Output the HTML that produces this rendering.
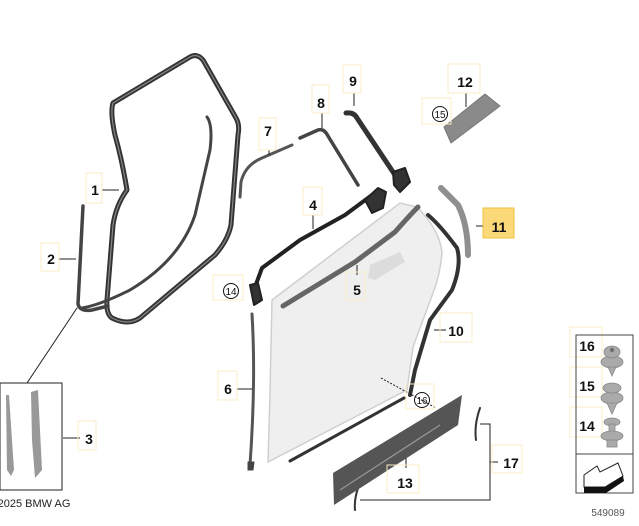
<!DOCTYPE html>
<html><head><meta charset="utf-8"><style>
html,body{margin:0;padding:0;background:#fff;}
svg{display:block;}
text{font-family:"Liberation Sans",sans-serif;font-weight:bold;fill:#111;}
</style></head><body>
<svg width="639" height="526" viewBox="0 0 639 526" xmlns="http://www.w3.org/2000/svg">
<g fill="none" stroke-linejoin="round" stroke-linecap="round">
<path d="M113,103 L190,57 Q197,53 203,60 L236,118 Q240,125 238,135 L231,225 Q228,240 215,255 L140,318 Q128,326 112,318 Q106,314 107,300 L113,225 Q116,205 127,190 Q122,160 115,135 Q110,112 113,103 Z" stroke="#333" stroke-width="5"/>
<path d="M113,103 L190,57 Q197,53 203,60 L236,118 Q240,125 238,135 L231,225 Q228,240 215,255 L140,318 Q128,326 112,318 Q106,314 107,300 L113,225 Q116,205 127,190 Q122,160 115,135 Q110,112 113,103 Z" stroke="#888" stroke-width="1.2"/>
<path d="M207,117 Q213,125 210,150 L195,215 Q180,260 130,290 Q100,305 82,308" stroke="#444" stroke-width="3"/>
<path d="M83,206 L78,304 Q80,312 92,310 L108,306" stroke="#444" stroke-width="3.5"/>
<line x1="77" y1="308" x2="27" y2="383" stroke="#222" stroke-width="1"/>
<path d="M240,197 L241,182 Q245,165 262,158 L292,145" stroke="#555" stroke-width="3"/>
<path d="M300,138 L318,130 Q324,128 328,136 L358,185" stroke="#444" stroke-width="3.5"/>
<path d="M346,113 Q354,112 357,118 L395,175" stroke="#333" stroke-width="5"/>
<path d="M393,172 L405,168 L410,182 L400,192 L394,185 Z" fill="#333" stroke="#222" stroke-width="2"/>
<path d="M444,127 L485,94 L500,106 L451,143 Z" fill="#8a8a8a" stroke="#777" stroke-width="1"/>
<path d="M255,287 L262,268 L300,240 L345,215 L372,195" stroke="#222" stroke-width="4"/>
<path d="M365,200 L378,188 L386,192 L383,208 L372,213 Z" fill="#333" stroke="#222" stroke-width="2"/>
<path d="M250,285 L258,283 L262,300 L254,305 Z" fill="#333" stroke="#222" stroke-width="2"/>
</g>
<path d="M272,300 L400,203 L417,207 Q440,230 442,253 Q440,275 433,293 L413,347 L407,390 L268,462 L270,393 Z" fill="#efefef" stroke="#cfcfcf" stroke-width="1.5"/>
<path d="M370,265 L400,252 L405,262 L375,280 L368,278 Z" fill="#dcdcdc"/>
<g fill="none" stroke-linecap="round" stroke-linejoin="round">
<path d="M283,306 L355,262 L395,232 Q410,215 418,207" stroke="#666" stroke-width="5"/>
<path d="M428,215 Q440,225 457,248 Q462,265 452,290 L430,320 L415,370 L410,395" stroke="#333" stroke-width="4"/>
<path d="M441,188 L458,205 Q468,225 468,255" stroke="#8f8f8f" stroke-width="6"/>
<path d="M252,314 Q256,380 250,465" stroke="#555" stroke-width="3"/>
<path d="M248,462 L254,462 L253,470 L248,470 Z" fill="#444" stroke="#444"/>
<path d="M290,461 L404,398" stroke="#333" stroke-width="3"/>
<path d="M480,408 Q474,425 476,440" stroke="#333" stroke-width="2"/>
<path d="M358,488 Q354,500 355,510" stroke="#333" stroke-width="2"/>
</g>
<path d="M333,473 L462,395 L458,425 L334,505 Z" fill="#555"/>
<path d="M340,490 L440,425" stroke="#999" stroke-width="1.2"/>
<g stroke="#222" stroke-width="1" fill="none">
<line x1="102" y1="190" x2="119" y2="190"/>
<line x1="59" y1="259" x2="76" y2="259"/>
<line x1="63" y1="438" x2="80" y2="438"/>
<line x1="269" y1="150" x2="269" y2="155"/>
<line x1="322" y1="113" x2="322" y2="128"/>
<line x1="354" y1="93" x2="354" y2="106"/>
<line x1="466" y1="93" x2="466" y2="107"/>
<line x1="313" y1="215" x2="313" y2="229"/>
<line x1="476" y1="226" x2="488" y2="226"/>
<line x1="357" y1="275" x2="357" y2="265"/>
<line x1="434" y1="330" x2="446" y2="330"/>
<line x1="237" y1="389" x2="252" y2="389"/>
<line x1="381" y1="378" x2="436" y2="408" stroke-dasharray="2,1.5"/>
<line x1="406" y1="458" x2="406" y2="468"/>
<polyline points="480,424 490,424 490,500 360,500"/>
<line x1="490" y1="462" x2="498" y2="462"/>
</g>
<g fill="none" stroke="#f8ecc4" stroke-width="1">
<rect x="86" y="173" width="16" height="30"/>
<rect x="41" y="243" width="18" height="28"/>
<rect x="78" y="421" width="18" height="29"/>
<rect x="259" y="118" width="17" height="32"/>
<rect x="312" y="85" width="17" height="28"/>
<rect x="343" y="65" width="18" height="28"/>
<rect x="448" y="64" width="32" height="29"/>
<rect x="422" y="98" width="29" height="26"/>
<rect x="303" y="187" width="19" height="28"/>
<rect x="213" y="275" width="30" height="25"/>
<rect x="346" y="272" width="19" height="28"/>
<rect x="440" y="313" width="32" height="29"/>
<rect x="218" y="371" width="19" height="29"/>
<rect x="406" y="384" width="28" height="25"/>
<rect x="387" y="465" width="32" height="28"/>
<rect x="492" y="445" width="30" height="28"/>
<rect x="570" y="327" width="32" height="30"/>
<rect x="570" y="367" width="32" height="30"/>
<rect x="570" y="407" width="32" height="30"/>
</g>
<rect x="483" y="208" width="31" height="30" fill="#fbd878" stroke="#f0c040"/>
<g font-size="14" text-anchor="middle">
<text x="95" y="195">1</text>
<text x="51" y="264">2</text>
<text x="89" y="444">3</text>
<text x="268" y="136">7</text>
<text x="321" y="108">8</text>
<text x="353" y="86">9</text>
<text x="465" y="87">12</text>
<text x="313" y="210">4</text>
<text x="499" y="232">11</text>
<text x="357" y="295">5</text>
<text x="456" y="336">10</text>
<text x="228" y="394">6</text>
<text x="405" y="488">13</text>
<text x="511" y="468">17</text>
<text x="587" y="351">16</text>
<text x="587" y="391">15</text>
<text x="587" y="431">14</text>
</g>
<g fill="none" stroke="#111" stroke-width="1">
<circle cx="440" cy="114" r="7.5"/>
<circle cx="231" cy="291" r="7.5"/>
<circle cx="422" cy="400" r="7.5"/>
</g>
<g font-size="10" text-anchor="middle">
<text x="440" y="118" style="font-weight:normal">15</text>
<text x="231" y="295" style="font-weight:normal">14</text>
<text x="422" y="404" style="font-weight:normal">16</text>
</g>
<rect x="0" y="383" width="62" height="107" fill="none" stroke="#222" stroke-width="1"/>
<path d="M6,395 L9,395 L14,470 L11,476 L7,470 Z" fill="#999"/>
<path d="M31,392 L38,390 L42,470 L35,478 L32,440 Z" fill="#999"/>
<text x="34" y="507" font-size="11" text-anchor="middle" style="font-weight:normal;fill:#222">2025 BMW AG</text>
<rect x="576" y="335" width="57" height="158" fill="none" stroke="#444" stroke-width="1"/>
<line x1="576" y1="454" x2="633" y2="454" stroke="#444"/>
<g fill="#aaa" stroke="#888" stroke-width="0.8">
<ellipse cx="612" cy="362" rx="11" ry="6"/><ellipse cx="612" cy="352" rx="8" ry="6"/><circle cx="612" cy="350" r="2" fill="#666"/>
<path d="M608,367 L616,367 L612,376 Z"/>
<ellipse cx="612" cy="398" rx="11" ry="6"/><ellipse cx="612" cy="388" rx="9" ry="5"/>
<path d="M607,403 L617,403 L612,414 Z"/>
<ellipse cx="612" cy="422" rx="8" ry="4"/><rect x="609" y="424" width="6" height="10"/>
<ellipse cx="612" cy="436" rx="11" ry="5"/><rect x="607" y="440" width="10" height="7"/>
</g>
<path d="M584,475 L584,487 L605,487 L623,476 L618,463 L600,472 L597,466 Z" fill="#fff" stroke="#222" stroke-width="1"/>
<path d="M584,487 L605,487 L623,476 L624,481 L606,493 L584,493 Z" fill="#111"/>
<text x="608" y="516" font-size="10" text-anchor="middle" style="font-weight:normal;fill:#555">549089</text>
</svg>
</body></html>
